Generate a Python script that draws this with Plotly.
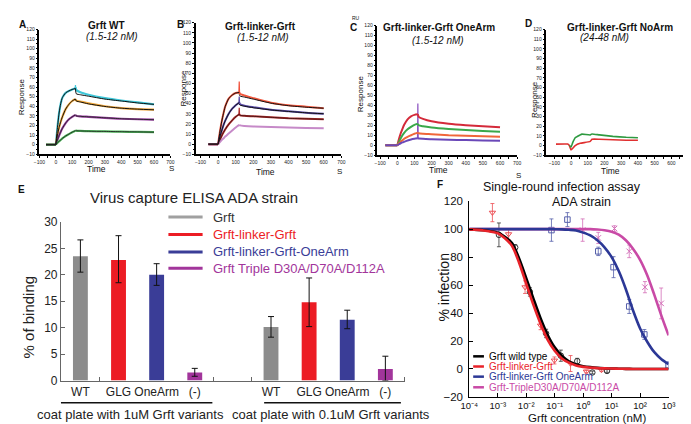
import plotly.graph_objects as go

W, H = 691, 424
FONT = "Liberation Sans, Arial, sans-serif"

# ---------------- Sensorgram data (panels A-D), time in s, response in RU ----------------
assoc_t = [0, 10, 20, 30, 40, 60, 80, 100, 120]
dissoc_t = [120, 125, 150, 200, 300, 400, 500, 600]
spike_t = [118, 120, 122]

# Panel A: Grft WT (1.5-12 nM)
A_base_t = [-60, 0]
A_base_v = [0, 0]
A_cyan_assoc = [0, 18, 33, 43, 49, 54, 56, 57.5, 58.5]
A_cyan_dissoc = [60, 57, 54.5, 52, 48.5, 46, 44, 42]
A_cyan_fit_dissoc = [58.5, 53, 52, 50.5, 47.5, 45.5, 43.5, 42]
A_orange_assoc = [0, 10, 18, 24, 29, 37, 42, 45.5, 47.5]
A_orange_dissoc = [47.5, 46, 45, 43, 40, 38, 37, 36.5]
A_orange_fit_dissoc = [47.5, 45.5, 44.5, 42.5, 39.8, 38, 37, 36.3]
A_purple_assoc = [0, 5, 9.5, 13.5, 17, 22.5, 26.5, 29, 31]
A_purple_dissoc = [31, 30, 29.5, 29, 28, 27, 26.5, 26]
A_green_assoc = [0, 2, 3.5, 5, 6.5, 9, 11, 13, 14.5]
A_green_dissoc = [15, 14.5, 14.3, 14, 13.8, 13.5, 13.3, 13]
A_spike_cyan = [58.5, 62, 58]

# Panel B: Grft-linker-Grft (1.5-12 nM)
B_base_t = [-55, 0]
B_base_v = [0, 0]
B_red_assoc = [0, 12, 22, 30, 37, 45, 48.5, 50.5, 51]
B_red_dissoc = [51, 49.5, 48, 45.5, 41, 38.5, 37, 35.5]
B_red_fit_dissoc = [49, 47.5, 46.5, 44.5, 40.5, 38, 36.5, 35.5]
B_blue_assoc = [0, 7, 13, 18.5, 23, 30, 35, 38.5, 41]
B_blue_dissoc = [41, 39.5, 38, 36.5, 34, 32.5, 31, 30]
B_blue_fit_dissoc = [39.5, 38.5, 37.5, 36, 33.8, 32.3, 31, 30]
B_dred_assoc = [0, 4, 8, 11.5, 14.5, 19.5, 23.5, 27, 29.5]
B_dred_dissoc = [29.5, 28.5, 28, 27.5, 26.5, 25.5, 25, 24.5]
B_lav_assoc = [0, 2, 4, 5.5, 7.5, 10.5, 13.5, 16.5, 19]
B_lav_dissoc = [19, 18.5, 18, 17.5, 17, 16.5, 16, 15.8]
B_spike_red = [51, 62, 49.5]
B_spike_blue = [41, 47, 39.5]
B_spike_dred = [29.5, 36, 28.5]

# Panel C: Grft-linker-Grft OneArm (1.5-12 nM)
C_base_t = [-70, 0]
C_base_v = [0, 0]
C_red_assoc = [0, 6.5, 12, 16.5, 20.5, 26, 29, 30.5, 31]
C_red_dissoc = [31, 28.5, 26.5, 24, 21.5, 20, 19, 18]
C_green_assoc = [0, 3.5, 7, 10, 12.5, 16, 18.5, 20.5, 21.5]
C_green_dissoc = [21.5, 20, 19, 17.8, 16.3, 15.2, 14.3, 13.6]
C_orange_assoc = [0, 2, 3.5, 5, 6.5, 8.5, 10, 11.5, 12.5]
C_orange_dissoc = [12.5, 12, 11.5, 11, 10, 9.5, 9, 8.5]
C_purple_assoc = [0, 1, 2, 2.8, 3.5, 4.8, 5.8, 6.5, 7]
C_purple_dissoc = [7, 6.8, 6.5, 6, 5.5, 5.2, 4.8, 4.5]
C_spike_purple = [7, 42, 7]

# Panel D: Grft-linker-Grft NoArm (24-48 nM)
D_red_t = [-90, -20, -10, 0, 25, 55, 115, 125, 170, 250, 330, 400]
D_red_v = [1.5, 1.5, 0, -4.5, 0, 2.3, 4.3, 6.5, 6.5, 6, 5.5, 5.5]
D_green_t = [-10, 0, 10, 25, 55, 65, 115, 125, 170, 250, 330, 400]
D_green_v = [0, -1.5, 3, 8, 11, 11.8, 11, 12, 11, 9.5, 8.5, 8]

# ---------------- Panel E: virus capture ELISA ----------------
E_tick_pos = [0, 1, 2, 3, 5, 6, 7, 8]
E_tick_labels = ["WT", "GLG", "OneArm", "(-)", "WT", "GLG", "OneArm", "(-)"]
E_series = ["Grft", "Grft-linker-Grft", "Grft-linker-Grft-OneArm", "Grft Triple D30A/D70A/D112A"]
E_pos = [[0, 5], [1, 6], [2, 7], [3, 8]]
E_vals = [[23.5, 10.1], [22.8, 14.8], [20.0, 11.5], [1.5, 2.2]]
E_err_plus = [[3.1, 2.0], [4.6, 4.6], [2.1, 1.8], [0.8, 2.4]]
E_err_minus = [[3.0, 1.9], [4.3, 4.6], [2.0, 1.7], [0.7, 2.2]]
E_groups = ["coat plate with 1uM Grft variants", "coat plate with 0.1uM Grft variants"]

# ---------------- Panel F: single-round infection assay ----------------
F_fit_exp = [-4, -3.5, -3, -2.75, -2.5, -2.25, -2, -1.75, -1.5, -1.25, -1, -0.75, -0.5, -0.25,
             0, 0.25, 0.5, 0.75, 1, 1.25, 1.5, 1.75, 2, 2.25, 2.5, 2.75, 3]
F_fit_wt = [99.8, 99.2, 97.5, 94.5, 90, 79, 65, 50.5, 36.5, 24.5, 15.5, 9.5, 5.5, 3.2,
            2, 1.3, 0.8, 0.5, 0.3, 0.2, 0.1, 0, 0, 0, 0, 0, 0]
F_fit_glg = [99.8, 99, 97, 93.5, 88, 76, 61, 46, 32.5, 21, 13, 7.5, 4.5, 2.5,
             1.5, 1, 0.6, 0.4, 0.3, 0.2, 0.1, 0, 0, 0, 0, 0, 0]
F_fit_onearm = [100, 100, 100, 100, 100, 100, 100, 100, 100, 100, 99.9, 99.8, 99.5, 99,
                97.5, 95.5, 92, 87, 80, 70, 57, 42, 29, 19.5, 12, 7, 3.5]
F_fit_triple = [100, 100, 100, 100, 100, 100, 100, 100, 100, 100, 100, 100, 100, 100,
                100, 100, 99.7, 99.2, 98.2, 96, 92, 86, 78, 67, 53, 38, 24]

F_wt_c = [0.0011, 0.0041, 0.0135, 0.050, 0.164, 0.62, 2.1, 6.9]
F_wt_v = [95.9, 86.9, 55.1, 25.4, 9.5, 5.6, -2.5, -1.4]
F_wt_e = [8.5, 2, 3, 3, 4, 2, 1, 1]
F_glg_c = [0.00065, 0.0024, 0.0091, 0.032, 0.098, 0.36, 1.3, 4.4]
F_glg_v = [111.8, 96.4, 58.5, 31.1, 6.1, 3.9, -1.8, -0.7]
F_glg_e = [6.5, 4, 4.5, 3, 2.5, 5.7, 1, 1]
F_one_c = [0.077, 0.28, 3.4, 11.7, 41.6, 141, 1000]
F_one_v = [99.3, 106.8, 84.1, 72.8, 44.7, 24.7, 2.7]
F_one_e = [8, 5, 3, 7.5, 5, 3.5, 2.5]
F_tri_c = [0.96, 3.4, 12.6, 41.6, 148, 550]
F_tri_v = [99.3, 93.7, 100.4, 84.1, 58.5, 46.9]
F_tri_e = [8, 4, 2, 4.5, 4, 11]
F_names = ["Grft wild type", "Grft-linker-Grft", "Grft-linker-Grft OneArm", "Grft-TripleD30A/D70A/D112A"]
F_xticks_exp = [-4, -3, -2, -1, 0, 1, 2, 3]
F_xtick_text = ["10⁻⁴", "10⁻³", "10⁻²", "10⁻¹", "10⁰", "10¹", "10²", "10³"]

# ---------------- helpers ----------------
def xd(a, b):
    return [a / W, b / W]

def yd(top, bottom):
    return [1 - bottom / H, 1 - top / H]

def px(x):
    return x / W

def py(y):
    return 1 - y / H

fig = go.Figure()

def seg_curve(base_t, base_v, assoc, dissoc):
    x = base_t + [None] + assoc_t + [None] + dissoc_t
    y = base_v + [None] + assoc + [None] + dissoc
    return x, y

def add_sensor(n, base_t, base_v, assoc, dissoc, color, width=1.8):
    x, y = seg_curve(base_t, base_v, assoc, dissoc)
    fig.add_trace(go.Scatter(x=x, y=y, mode="lines", xaxis=f"x{n}", yaxis=f"y{n}",
                             line=dict(color=color, width=width, shape="spline", smoothing=0.6),
                             connectgaps=False, showlegend=False, hoverinfo="skip"))

def add_spike(n, vals, color):
    fig.add_trace(go.Scatter(x=spike_t, y=vals, mode="lines", xaxis=f"x{n}", yaxis=f"y{n}",
                             line=dict(color=color, width=1.2), showlegend=False, hoverinfo="skip"))

# Panel A
add_spike(1, A_spike_cyan, "#3fc7d9")
add_sensor(1, A_base_t, A_base_v, A_cyan_assoc, A_cyan_dissoc, "#3fc7d9", 2.2)
add_sensor(1, A_base_t, A_base_v, A_orange_assoc, A_orange_dissoc, "#f2a93b", 2.2)
add_sensor(1, A_base_t, A_base_v, A_purple_assoc, A_purple_dissoc, "#9b3fa3", 2.2)
add_sensor(1, A_base_t, A_base_v, A_green_assoc, A_green_dissoc, "#4cbb5a", 2.2)
add_sensor(1, A_base_t, A_base_v, A_cyan_assoc, A_cyan_fit_dissoc, "#111111", 1.0)
add_sensor(1, A_base_t, A_base_v, A_orange_assoc, A_orange_fit_dissoc, "#111111", 1.0)
add_sensor(1, A_base_t, A_base_v, A_purple_assoc, A_purple_dissoc, "#222222", 0.9)
add_sensor(1, A_base_t, A_base_v, A_green_assoc, A_green_dissoc, "#222222", 0.9)

# Panel B
add_spike(2, B_spike_red, "#f0503a")
add_spike(2, B_spike_blue, "#5a4aa8")
add_spike(2, B_spike_dred, "#b02a2a")
add_sensor(2, B_base_t, B_base_v, B_red_assoc, B_red_dissoc, "#f0563c", 2.0)
add_sensor(2, B_base_t, B_base_v, B_blue_assoc, B_blue_dissoc, "#5a4aa8", 2.0)
add_sensor(2, B_base_t, B_base_v, B_dred_assoc, B_dred_dissoc, "#b02a2a", 2.0)
add_sensor(2, B_base_t, B_base_v, B_lav_assoc, B_lav_dissoc, "#c68ac8", 2.0)
add_sensor(2, B_base_t, B_base_v, B_red_assoc, B_red_fit_dissoc, "#111111", 1.0)
add_sensor(2, B_base_t, B_base_v, B_blue_assoc, B_blue_fit_dissoc, "#111111", 1.0)
add_sensor(2, B_base_t, B_base_v, B_dred_assoc, B_dred_dissoc, "#331111", 0.8)

# Panel C
add_spike(3, C_spike_purple, "#8a50c0")
add_sensor(3, C_base_t, C_base_v, C_red_assoc, C_red_dissoc, "#d42a3a", 2.0)
add_sensor(3, C_base_t, C_base_v, C_green_assoc, C_green_dissoc, "#3aa84a", 2.0)
add_sensor(3, C_base_t, C_base_v, C_orange_assoc, C_orange_dissoc, "#f0663a", 2.0)
add_sensor(3, C_base_t, C_base_v, C_purple_assoc, C_purple_dissoc, "#6a48b8", 2.0)

# Panel D
fig.add_trace(go.Scatter(x=D_red_t, y=D_red_v, mode="lines", xaxis="x4", yaxis="y4",
                         line=dict(color="#e03030", width=1.6, shape="spline", smoothing=0.4),
                         showlegend=False, hoverinfo="skip"))
fig.add_trace(go.Scatter(x=D_green_t, y=D_green_v, mode="lines", xaxis="x4", yaxis="y4",
                         line=dict(color="#2e9a40", width=1.6, shape="spline", smoothing=0.4),
                         showlegend=False, hoverinfo="skip"))

# Panel E bars
E_colors = ["#8c8c8c", "#ec1c24", "#3a3d97", "#a2359b"]
for i in range(4):
    fig.add_trace(go.Bar(x=E_pos[i], y=E_vals[i], width=0.39, xaxis="x5", yaxis="y5",
                         marker=dict(color=E_colors[i], line=dict(width=0)),
                         error_y=dict(type="data", array=E_err_plus[i], arrayminus=E_err_minus[i],
                                      color="#111111", thickness=1, width=3),
                         name=E_series[i], showlegend=False, hoverinfo="skip"))

# Panel F
F_fit_c = [10 ** e for e in F_fit_exp]
F_cols = ["#000000", "#e8232a", "#2c3896", "#c94aa6"]
F_fits = [F_fit_wt, F_fit_glg, F_fit_onearm, F_fit_triple]
F_pts = [(F_wt_c, F_wt_v, F_wt_e, "circle-open"), (F_glg_c, F_glg_v, F_glg_e, "triangle-down-open"),
         (F_one_c, F_one_v, F_one_e, "square-open"), (F_tri_c, F_tri_v, F_tri_e, "x-thin-open")]
for i in range(4):
    c, v, e, sym = F_pts[i]
    fig.add_trace(go.Scatter(x=c, y=v, mode="markers", xaxis="x6", yaxis="y6",
                             marker=dict(symbol=sym, size=5.5, color=F_cols[i],
                                         line=dict(color=F_cols[i], width=1)),
                             error_y=dict(type="data", array=e, color=F_cols[i], thickness=0.8, width=2),
                             opacity=0.8, showlegend=False, hoverinfo="skip"))
for i in [3, 2, 0, 1]:
    fig.add_trace(go.Scatter(x=F_fit_c, y=F_fits[i], mode="lines", xaxis="x6", yaxis="y6",
                             line=dict(color=F_cols[i], width=2.6, shape="spline", smoothing=0.8),
                             name=F_names[i], showlegend=False, hoverinfo="skip"))

# ---------------- axes ----------------
def top_axes(n, xdom, ydom, xrange):
    common = dict(showline=True, linecolor="black", linewidth=1.5, ticks="outside", ticklen=2,
                  tickwidth=1, tickcolor="black", showgrid=False, zeroline=False,
                  tickfont=dict(size=5, family=FONT, color="#222"))
    xa = dict(domain=xd(*xdom), range=xrange, tick0=0, dtick=100, anchor=f"y{n}",
              minor=dict(dtick=50, tick0=0, ticks="outside", ticklen=2, tickcolor="black"), **common)
    ya = dict(domain=yd(*ydom), range=[-10, 120], tick0=0, dtick=10, anchor=f"x{n}",
              minor=dict(dtick=5, tick0=0, ticks="outside", ticklen=1.5, tickcolor="black"), **common)
    return xa, ya

lay = {}
for n, xdom, ydom, xr in [(1, (23, 157), (15, 144), [-100, 700]),
                          (2, (183, 332), (8, 144), [-127, 700]),
                          (3, (369, 512), (11, 145), [-116, 700]),
                          (4, (542, 687), (15, 145), [-147, 700])]:
    xa, ya = top_axes(n, xdom, ydom, xr)
    lay["xaxis" if n == 1 else f"xaxis{n}"] = xa
    lay["yaxis" if n == 1 else f"yaxis{n}"] = ya

lay["xaxis5"] = dict(domain=xd(45, 397), range=[-0.51, 8.51], anchor="y5", showline=True,
                     linecolor="#666", linewidth=1, tickmode="array", tickvals=E_tick_pos,
                     ticktext=E_tick_labels, ticks="", showgrid=False, zeroline=False,
                     tickfont=dict(size=12, family=FONT, color="#222"),
                     minor=dict(tickmode="array", tickvals=[0.5, 3.5, 4.5, 8.5], ticks="inside",
                                ticklen=4, tickcolor="#666"))
lay["yaxis5"] = dict(domain=yd(214, 378), range=[0, 30], anchor="x5", showline=True, linecolor="#666",
                     linewidth=1, tick0=0, dtick=5, ticks="inside", ticklen=4, tickcolor="#666",
                     showgrid=False, zeroline=False, tickfont=dict(size=12, family=FONT, color="#222"))
lay["xaxis6"] = dict(domain=xd(463, 667), type="log", range=[-4, 3], anchor="y6", showline=True,
                     linecolor="black", linewidth=1, tickmode="array",
                     tickvals=[10 ** e for e in F_xticks_exp], ticktext=F_xtick_text,
                     ticks="inside", ticklen=4, tickcolor="black", showgrid=False, zeroline=False,
                     tickfont=dict(size=9.5, family=FONT, color="#111"))
lay["yaxis6"] = dict(domain=yd(192.5, 395), range=[-20, 120], anchor="x6", showline=True,
                     linecolor="black", linewidth=1, tick0=-20, dtick=20, ticks="inside", ticklen=4,
                     tickcolor="black", showgrid=False, zeroline=False, ticklabelstandoff=3,
                     tickfont=dict(size=11.5, family=FONT, color="#111"))

# ---------------- annotations ----------------
anns = []

def ann(text, x, y, size=10, color="#111", bold=False, italic=False, xanchor="center", angle=0):
    t = text
    if bold:
        t = f"<b>{t}</b>"
    if italic:
        t = f"<i>{t}</i>"
    anns.append(dict(text=t, x=px(x), y=py(y), xref="paper", yref="paper", showarrow=False,
                     xanchor=xanchor, yanchor="middle", textangle=angle,
                     font=dict(size=size, color=color, family=FONT)))

# top panels
ann("A", 6, 10, 10, bold=True)
ann("Grft WT", 92, 11, 10, bold=True)
ann("(1.5-12 nM)", 97, 22, 10, italic=True)
ann("Response", 4, 84, 8, angle=-90)
ann("Time", 81, 159, 8.5)
ann("S", 158, 159, 8)

ann("B", 167, 10, 10, bold=True)
ann("Grft-linker-Grft", 249, 12, 10, bold=True)
ann("(1.5-12 nM)", 252, 23, 10, italic=True)
ann("Response", 170, 76, 8, angle=-90)
ann("Time", 254, 162, 8.5)
ann("S", 330, 162, 8)

ann("RU", 347, 3, 5)
ann("C", 344, 13, 10, bold=True)
ann("Grft-linker-Grft OneArm", 432, 13, 10, bold=True)
ann("(1.5-12 nM)", 431, 26, 10, italic=True)
ann("Response", 351, 81, 8, angle=-90)
ann("Time", 432, 160, 8.5)
ann("S", 513, 166, 8)

ann("D", 524, 9, 10, bold=True)
ann("Grft-linker-Grft NoArm", 617, 13, 10, bold=True)
ann("(24-48 nM)", 601, 23, 10, italic=True)
ann("Response", 529, 87, 8, angle=-90)
ann("Time", 608, 161, 8.5)
ann("S", 688, 162, 8)

# panel E
ann("E", 5, 180, 10, bold=True)
ann("Virus capture ELISA ADA strain", 181, 189, 15, color="#222")
ann("% of binding", 12, 312, 15, color="#222", angle=-90)
ann(E_groups[0], 116, 413, 13, color="#222")
ann(E_groups[1], 321, 413, 13, color="#222")
E_text_cols = ["#333333", "#ec1c24", "#3a3d97", "#a2359b"]
E_leg_y = [209, 227, 245, 262]
for i in range(4):
    ann(E_series[i], 199, E_leg_y[i], 13, color=E_text_cols[i], xanchor="left")

# panel F
ann("F", 433, 175, 10, bold=True)
ann("Single-round infection assay", 558, 178, 12.5, color="#111")
ann("ADA strain", 578, 193.5, 12.5, color="#111")
ann("% infection", 437, 282, 14, color="#111", angle=-90)
ann("Grft concentration (nM)", 584, 416.5, 11.5, color="#111")
F_leg_y = [353, 363.5, 374, 385]
for i in range(4):
    ann(F_names[i], 481, F_leg_y[i], 10, color=F_cols[i], xanchor="left")

# ---------------- decorative shapes (legend swatches, group underlines) ----------------
shapes = []
def hline(x0, x1, y, color, width):
    shapes.append(dict(type="line", xref="paper", yref="paper", x0=px(x0), x1=px(x1),
                       y0=py(y), y1=py(y), line=dict(color=color, width=width)))

hline(45, 200, 401, "#111", 1.5)
hline(253, 393, 401, "#111", 1.5)
E_sw_cols = ["#a0a0a0", "#ec1c24", "#3a3d97", "#a2359b"]
for i in range(4):
    hline(155, 190, E_leg_y[i], E_sw_cols[i], 3)
for i in range(4):
    hline(467, 478, F_leg_y[i], F_cols[i], 2.5)

fig.update_layout(width=W, height=H, margin=dict(l=0, r=0, t=0, b=0), paper_bgcolor="white",
                  plot_bgcolor="white", showlegend=False, barmode="overlay",
                  font=dict(family=FONT), annotations=anns, shapes=shapes, **lay)

fig.write_html("out.html")
